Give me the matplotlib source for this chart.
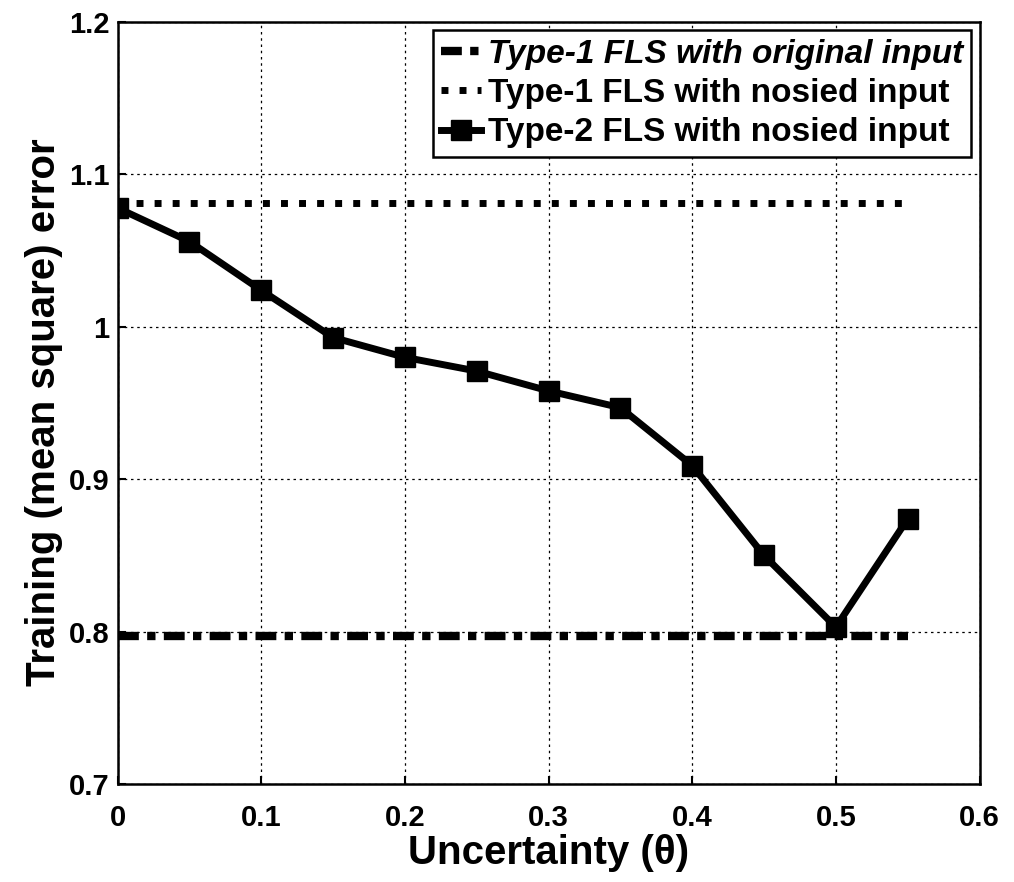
import matplotlib
matplotlib.use('Agg')
import matplotlib.pyplot as plt

# uncertainty values (theta)
theta = [0, 0.05, 0.1, 0.15, 0.2, 0.25, 0.3, 0.35, 0.4, 0.45, 0.5, 0.55]
type2_noised = [1.078, 1.056, 1.024, 0.993, 0.980, 0.971, 0.958, 0.947, 0.909, 0.850, 0.803, 0.874]
type1_original = [0.797] * len(theta)
type1_noised = [1.081] * len(theta)

plt.rcParams['font.family'] = ['Liberation Sans', 'DejaVu Sans']
plt.rcParams['font.weight'] = 'bold'

fig = plt.figure(figsize=(10.14, 8.82), dpi=100)
ax = fig.add_axes([0.116, 0.111, 0.85, 0.864])

ax.plot(theta, type1_original, color='black', lw=6, ls=(0, (2.5, 1, 1, 1)),
        label='Type-1 FLS with original input')
ax.plot(theta, type1_noised, color='black', lw=5, ls=(0, (1, 1.6)),
        label='Type-1 FLS with nosied input')
ax.plot(theta, type2_noised, color='black', lw=5, marker='s', ms=14,
        label='Type-2 FLS with nosied input')

ax.set_xlim(0, 0.6)
ax.set_ylim(0.7, 1.2)
ax.set_xticks([0, 0.1, 0.2, 0.3, 0.4, 0.5, 0.6])
ax.set_xticklabels(['0', '0.1', '0.2', '0.3', '0.4', '0.5', '0.6'])
ax.set_yticks([0.7, 0.8, 0.9, 1.0, 1.1, 1.2])
ax.set_yticklabels(['0.7', '0.8', '0.9', '1', '1.1', '1.2'])
ax.tick_params(direction='in', labelsize=21, width=1.5, length=6)
ax.tick_params(axis='x', pad=14)
ax.tick_params(axis='y', pad=6)
ax.grid(True, color='black', ls=(0, (2, 3)), lw=0.9)
for s in ax.spines.values():
    s.set_linewidth(1.8)

ax.set_xlabel('Uncertainty (\u03b8)', fontsize=29, fontweight='bold', labelpad=2)
ax.set_ylabel('Training (mean square) error', fontsize=29, fontweight='bold')
ax.yaxis.set_label_coords(-0.063, 0.488)

leg = ax.legend(loc='upper right', fontsize=24, handlelength=1.2, handletextpad=0.2,
                borderpad=0.25, labelspacing=0.25, fancybox=False, framealpha=1,
                edgecolor='black', borderaxespad=0.25)
leg.get_frame().set_linewidth(1.8)
leg.get_texts()[0].set_fontstyle('italic')

fig.savefig('out.png', dpi=100)
